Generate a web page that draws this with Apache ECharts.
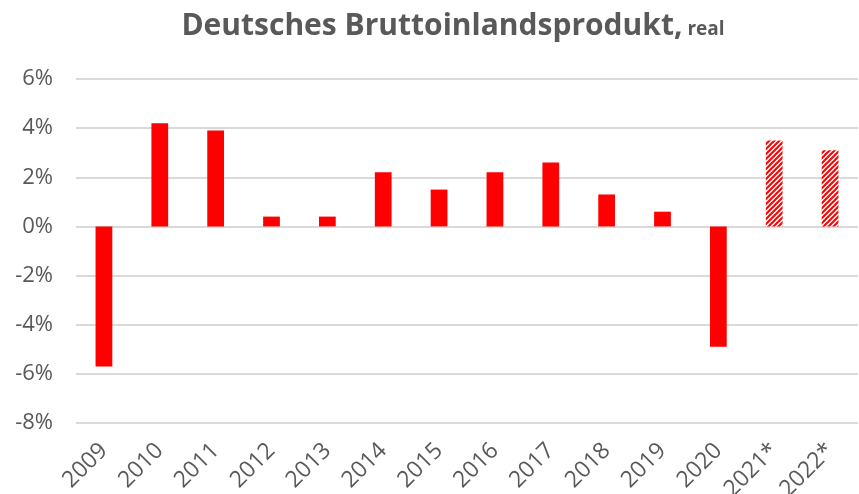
<!DOCTYPE html>
<html lang="de">
<head>
    <meta charset="UTF-8">
    <title>Deutsches Bruttoinlandsprodukt, real</title>
    <script src="https://cdn.jsdelivr.net/npm/echarts@6/dist/echarts.min.js"></script>
    <style>
        html, body { margin: 0; padding: 0; background: #fff; }
        #chart { width: 859px; height: 494px; }
    </style>
</head>
<body>
    <div id="chart"></div>

    <script>
        // Jahre und reale BIP-Veränderung in %
        const years = ['2009', '2010', '2011', '2012', '2013', '2014', '2015',
                       '2016', '2017', '2018', '2019', '2020', '2021*', '2022*'];
        const growth = [-5.7, 4.2, 3.9, 0.4, 0.4, 2.2, 1.5, 2.2, 2.6, 1.3, 0.6, -4.9, 3.5, 3.1];
        // Prognosejahre (schraffiert)
        const isForecast = [false, false, false, false, false, false, false,
                            false, false, false, false, false, true, true];
        const yTicks = [-8, -6, -4, -2, 0, 2, 4, 6];

        const textColor = '#595959';

        // Schraffur-Muster für Prognosebalken
        function makeHatch() {
            const c = document.createElement('canvas');
            c.width = 5;
            c.height = 5;
            const ctx = c.getContext('2d');
            ctx.fillStyle = '#fff';
            ctx.fillRect(0, 0, 5, 5);
            ctx.strokeStyle = '#ff0000';
            ctx.lineWidth = 2;
            ctx.beginPath();
            ctx.moveTo(-1, 6); ctx.lineTo(6, -1);
            ctx.moveTo(-1, 1); ctx.lineTo(1, -1);
            ctx.moveTo(4, 6); ctx.lineTo(6, 4);
            ctx.stroke();
            return c;
        }
        const hatch = { image: makeHatch(), repeat: 'repeat' };

        const chart = echarts.init(document.getElementById('chart'));

        chart.setOption({
            animation: false,
            title: {
                text: '{main|Deutsches Bruttoinlandsprodukt,} {sub|real}',
                left: 448,
                textAlign: 'center',
                top: 6,
                textStyle: {
                    rich: {
                        main: { fontFamily: 'Open Sans', fontWeight: 'bold', fontSize: 30, color: textColor },
                        sub: { fontFamily: 'Open Sans', fontWeight: 'bold', fontSize: 19, color: textColor, padding: [7, 0, 0, 0] }
                    }
                }
            },
            grid: { left: 76, right: 1, top: 79, bottom: 71, outerBoundsMode: 'none', containLabel: false },
            xAxis: {
                type: 'category',
                data: years,
                axisLine: { show: false, onZero: false },
                axisTick: { show: false },
                axisLabel: {
                    rotate: 45,
                    margin: 24,
                    color: textColor,
                    fontFamily: 'Open Sans',
                    fontSize: 23,
                    interval: 0
                }
            },
            yAxis: {
                type: 'value',
                min: yTicks[0],
                max: yTicks[yTicks.length - 1],
                interval: 2,
                axisLine: { show: false },
                axisTick: { show: false },
                axisLabel: {
                    formatter: '{value}%',
                    margin: 23,
                    color: textColor,
                    fontFamily: 'Open Sans',
                    fontSize: 22
                },
                splitLine: { lineStyle: { color: '#d9d9d9', width: 2 } }
            },
            series: [{
                type: 'bar',
                barWidth: '30%',
                data: growth.map((v, i) => isForecast[i]
                    ? { value: v, itemStyle: { color: hatch } }
                    : v),
                itemStyle: { color: '#ff0000' }
            }]
        });
    </script>
</body>
</html>
